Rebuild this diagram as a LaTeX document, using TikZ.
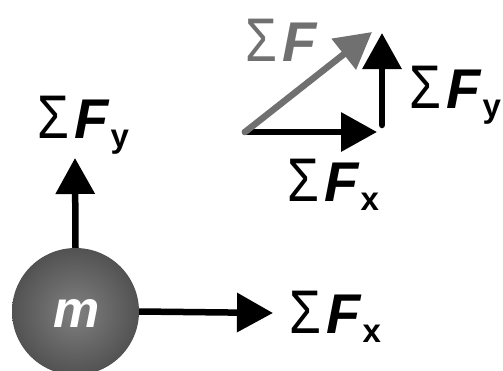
\documentclass[tikz,border=0pt]{standalone}
\usepackage{fontspec}
\setmainfont{Liberation Sans}
\usetikzlibrary{arrows.meta}
\definecolor{fgray}{RGB}{112,112,112}
\definecolor{ballin}{RGB}{128,128,128}
\definecolor{ballout}{RGB}{82,82,82}
\newcommand{\sig}{\scalebox{0.92}[1.1]{\char"03A3}}
\newcommand{\sumF}[1]{\fontsize{56}{56}\selectfont\sig\kern0.1em{\bfseries\itshape F}\kern0.03em\raisebox{-9.5pt}{\fontsize{33}{33}\selectfont\bfseries #1}}
\tikzset{
  vec/.style={line width=6.5pt,-{Triangle[length=36pt,width=38pt]}},
  lab/.style={inner sep=0pt,anchor=base west},
}
\begin{document}
\begin{tikzpicture}[x=1pt,y=-1pt]
\useasboundingbox (0,0) rectangle (503,370);
% ball
\shade[inner color=ballin,outer color=ballout] (75.5,311.5) circle[radius=63.5];
\node[circle,minimum size=127pt,inner sep=0pt] (m) at (75.5,311.5) {};
\node[text=white,inner sep=0pt] (mlab) at (76.5,313.5) {\fontsize{52}{52}\selectfont\bfseries\itshape m};
\coordinate (ytip) at (75,158);
\coordinate (xtip) at (273,313);
\draw[vec] (m.north) -- (ytip);
\draw[vec] (m.east) -- (xtip);
\node[lab] (fy) at (37,138) {\sumF{y}};
\node[lab] (fx) at (289,333) {\sumF{x}};
% components
\coordinate (o) at (245,132);
\coordinate (hx) at (377,132);
\coordinate (vb) at (382,125);
\coordinate (vt) at (382,33);
\coordinate (gt) at (372,32);
\draw[vec,line cap=round] (o) -- (hx);
\draw[vec,line cap=round] (vb) -- (vt);
\draw[vec,line cap=round,fgray] (o) -- (gt);
\node[lab] (fyr) at (409,108) {\sumF{y}};
\node[lab] (fxr) at (287,201) {\sumF{x}};
\node[lab,text=fgray] (fg) at (245,61) {\fontsize{56}{56}\selectfont\sig\kern0.1em{\bfseries\itshape F}};
\end{tikzpicture}
\end{document}
